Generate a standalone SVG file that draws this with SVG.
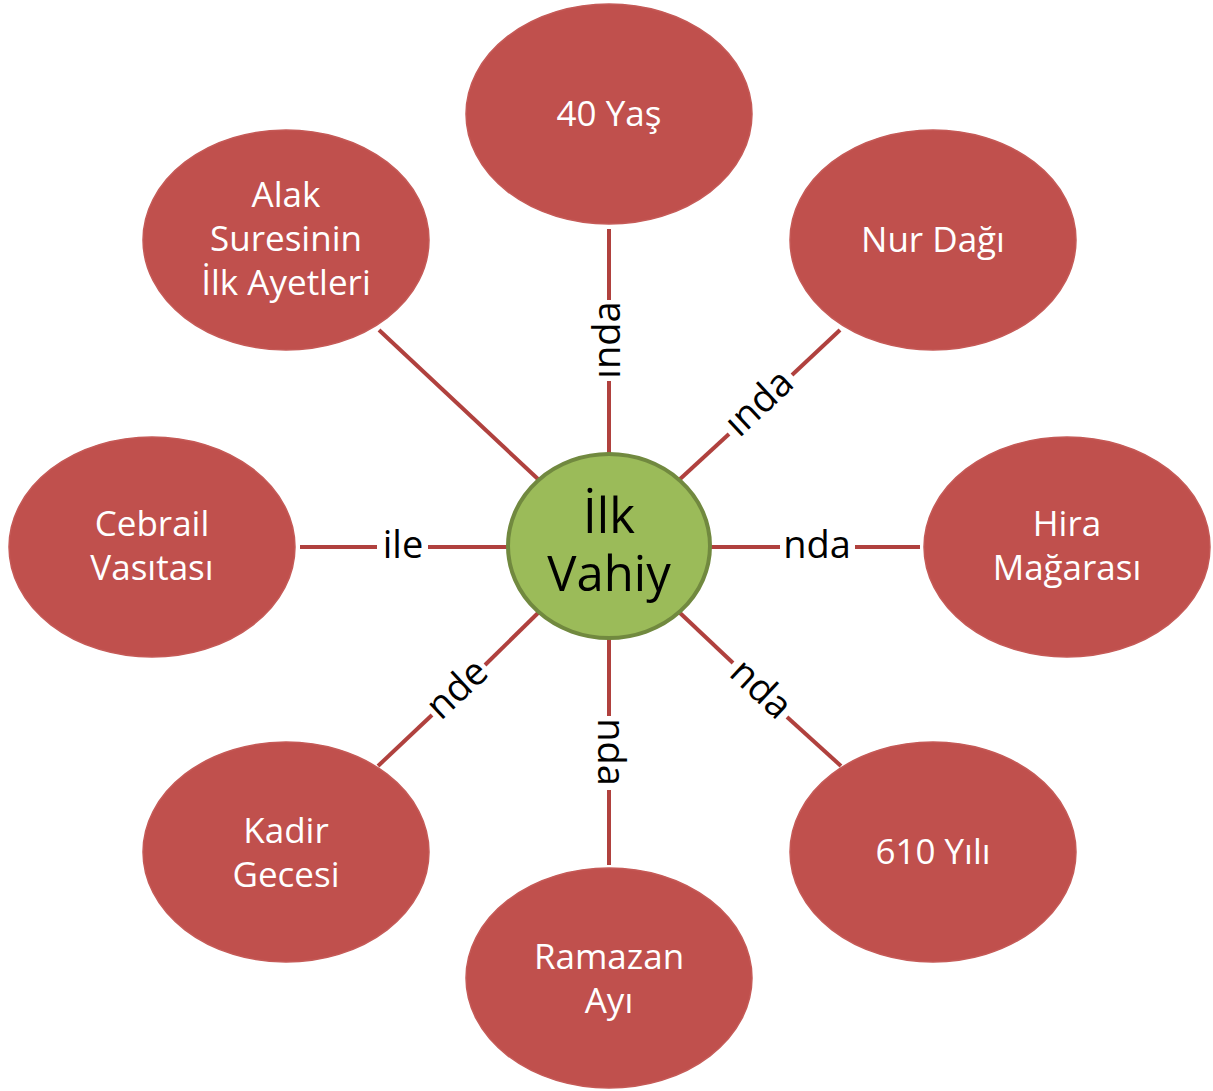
<svg xmlns="http://www.w3.org/2000/svg" width="1213" height="1091" viewBox="0 0 1213 1091">
<style>
.outer{fill:#C0504D;stroke:#C55A57;stroke-width:1.5}
.center{fill:#9BBB59;stroke:#71893F;stroke-width:4}
.nt{font-family:"Open Sans","Liberation Sans",sans-serif;font-size:35px;fill:#FFFFFF;text-anchor:middle}
.ct{font-family:"Open Sans","Liberation Sans",sans-serif;font-size:49px;fill:#000000;text-anchor:middle}
.lb{font-family:"Open Sans","Liberation Sans",sans-serif;font-size:38px;fill:#000000;text-anchor:middle}
.cn{stroke:#B0413E;stroke-width:4;fill:none}
</style>
<rect width="1213" height="1091" fill="#FFFFFF"/>
<g id="connectors">
  <line class="cn" x1="609" y1="454" x2="609" y2="381"/>
  <line class="cn" x1="609" y1="300" x2="609" y2="229"/>
  <text class="lb" transform="translate(609,340) rotate(-90)" y="11">ında</text>
  <line class="cn" x1="679" y1="480" x2="729" y2="434"/>
  <line class="cn" x1="792" y1="375" x2="840" y2="330"/>
  <text class="lb" transform="translate(760,404) rotate(-43)" y="11">ında</text>
  <line class="cn" x1="710" y1="547" x2="780" y2="547"/>
  <line class="cn" x1="855" y1="547" x2="920" y2="547"/>
  <text class="lb" transform="translate(817,547)" y="11">nda</text>
  <line class="cn" x1="679" y1="612" x2="733" y2="663"/>
  <line class="cn" x1="787" y1="717" x2="841" y2="766"/>
  <text class="lb" transform="translate(760,690) rotate(43)" y="11">nda</text>
  <line class="cn" x1="609" y1="638" x2="609" y2="716"/>
  <line class="cn" x1="609" y1="790" x2="609" y2="865"/>
  <text class="lb" transform="translate(609,752) rotate(90)" y="11">nda</text>
  <line class="cn" x1="539" y1="612" x2="485" y2="665"/>
  <line class="cn" x1="432" y1="715" x2="378" y2="766"/>
  <text class="lb" transform="translate(458,690) rotate(-43)" y="11">nde</text>
  <line class="cn" x1="508" y1="547" x2="428" y2="547"/>
  <line class="cn" x1="377" y1="547" x2="300" y2="547"/>
  <text class="lb" transform="translate(403,547)" y="11">ile</text>
  <line class="cn" x1="539" y1="480" x2="379" y2="330"/>
</g>
<g id="node-center">
  <ellipse class="center" cx="609" cy="546" rx="101" ry="92"/>
  <text class="ct" x="609" y="533">İlk</text>
  <text class="ct" x="609" y="591">Vahiy</text>
</g>
<g id="node-40yas">
  <ellipse class="outer" cx="609" cy="114" rx="143" ry="110"/>
  <text class="nt" x="609" y="126">40 Yaş</text>
</g>
<g id="node-nurdagi">
  <ellipse class="outer" cx="933" cy="240" rx="143" ry="110"/>
  <text class="nt" x="933" y="252">Nur Dağı</text>
</g>
<g id="node-hira">
  <ellipse class="outer" cx="1067" cy="547" rx="143" ry="110"/>
  <text class="nt" x="1067" y="536">Hira</text>
  <text class="nt" x="1067" y="580">Mağarası</text>
</g>
<g id="node-610">
  <ellipse class="outer" cx="933" cy="852" rx="143" ry="110"/>
  <text class="nt" x="933" y="864">610 Yılı</text>
</g>
<g id="node-ramazan">
  <ellipse class="outer" cx="609" cy="978" rx="143" ry="110"/>
  <text class="nt" x="609" y="969">Ramazan</text>
  <text class="nt" x="609" y="1013">Ayı</text>
</g>
<g id="node-kadir">
  <ellipse class="outer" cx="286" cy="852" rx="143" ry="110"/>
  <text class="nt" x="286" y="843">Kadir</text>
  <text class="nt" x="286" y="887">Gecesi</text>
</g>
<g id="node-cebrail">
  <ellipse class="outer" cx="152" cy="547" rx="143" ry="110"/>
  <text class="nt" x="152" y="536">Cebrail</text>
  <text class="nt" x="152" y="580">Vasıtası</text>
</g>
<g id="node-alak">
  <ellipse class="outer" cx="286" cy="240" rx="143" ry="110"/>
  <text class="nt" x="286" y="207">Alak</text>
  <text class="nt" x="286" y="251">Suresinin</text>
  <text class="nt" x="286" y="295">İlk Ayetleri</text>
</g>
</svg>
